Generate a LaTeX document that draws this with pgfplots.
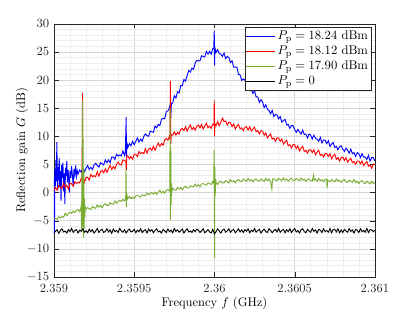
\documentclass[border=0pt]{standalone}
\usepackage{pgfplots}
\pgfplotsset{compat=1.18}
\definecolor{mlGreen}{rgb}{0.466,0.674,0.188}
\definecolor{axGray}{rgb}{0.15,0.15,0.15}
\newcommand{\figfont}{\fontsize{10.8}{13}\selectfont}

\begin{document}
\begin{tikzpicture}
\path[use as bounding box] (0,0) rectangle (360pt,270.6pt);
\begin{axis}[
  at={(46.8pt,30.4pt)}, anchor=south west,
  scale only axis, width=278.4pt, height=219.6pt,
  xmin=0, xmax=2000, ymin=-15, ymax=30,
  xtick={0,500,1000,1500,2000},
  xticklabels={2.359,2.3595,2.36,2.3605,2.361},
  ytick={-15,-10,...,30},
  minor x tick num=4, minor y tick num=4,
  tick align=inside, major tick length=4pt, minor tick length=0pt,
  grid=both,
  major grid style={draw=black!16},
  minor grid style={draw=black!7},
  axis line style={draw=axGray},
  tick style={draw=axGray},
  tick label style={text=axGray, font=\figfont},
  xticklabel style={yshift=-3pt},
  yticklabel style={xshift=-0.5pt},
  label style={font=\figfont},
  xlabel={Frequency $f$ (GHz)},
  ylabel={Reflection gain $G$ (dB)},
  xlabel style={at={(axis description cs:0.5,-0.106)}, anchor=center},
  ylabel style={at={(axis description cs:-0.0995,0.5)}, anchor=center},
  legend style={at={(rel axis cs:0.99,0.987)}, anchor=north east,
    draw=axGray, fill=white, font=\figfont, inner sep=1pt,
    legend cell align=left},
  legend image post style={xscale=1.45},
  every axis plot/.append style={line width=0.8pt},
]
% P_p = 18.24 dBm
\addplot[color=blue] coordinates {
(0,2.5)(3,-7.4)(6,4.1)(9,1.2)(12,5.8)(15,2.0)(18,9.0)(21,3.1)(24,0.5)(27,4.6)
(30,2.2)(33,6.1)(36,1.0)(40,3.8)(44,-1.5)(48,4.9)(52,2.6)(56,5.3)(60,0.2)(64,3.4)
(68,-2.0)(72,4.4)(76,2.9)(80,5.6)(84,1.8)(88,4.0)(92,2.4)(96,0.0)(100,3.9)(105,2.6)
(110,4.7)(115,3.0)(120,1.3)(125,4.2)(130,3.2)(135,4.8)(140,2.9)(145,3.9)(150,3.3)
(160,4.0)(170,3.6)(180,4.3)(190,3.7)(200,4.3)(210,4.8)(220,4.1)(230,4.5)(240,4.1)(250,4.9)
(260,5.2)(270,4.8)(280,4.5)(290,5.3)(300,5.1)(310,4.9)(320,5.8)(330,5.3)(340,5.8)(350,5.3)
(360,6.3)(370,6.3)(380,5.9)(390,6.8)(400,6.5)(410,6.7)(420,6.5)(430,7.4)(440,6.6)(445,7.3)
(450,13.4)(452,6.2)(455,8.9)(460,8.0)(470,8.7)(480,8.3)(490,9.1)(500,8.5)(510,9.1)(520,9.7)
(530,9.0)(540,9.5)(550,9.1)(560,10.0)(570,10.4)(580,10.1)(590,10.0)(600,10.9)(610,10.8)(620,10.7)
(630,11.8)(640,11.5)(650,12.1)(660,11.9)(670,13.0)(680,13.2)(690,13.1)(700,14.4)(710,14.5)(720,15.1)
(725,15.7)(728,13.2)(732,15.8)(740,15.9)(750,17.2)(760,16.8)(770,17.9)(780,17.7)(790,19.0)(800,19.0)
(810,20.1)(820,19.8)(830,20.8)(840,21.7)(850,21.4)(860,22.1)(870,21.9)(880,23.0)(890,23.5)(900,23.4)
(910,23.4)(920,24.3)(930,24.2)(940,24.1)(950,25.1)(960,24.6)(970,25.1)(980,24.6)(990,25.6)(996,25.6)
(999,28.8)(1000,25.0)(1001,22.6)(1003,25.7)(1010,24.9)(1020,25.4)(1030,24.7)(1040,24.6)(1050,24.2)(1060,24.8)
(1070,23.8)(1080,24.2)(1090,24.0)(1100,23.1)(1110,23.4)(1120,22.3)(1130,22.3)(1140,22.3)(1150,21.0)(1160,20.9)
(1170,19.9)(1180,20.2)(1190,20.0)(1200,19.2)(1210,18.6)(1220,18.9)(1230,18.3)(1240,17.6)(1250,18.1)(1260,17.0)
(1270,17.0)(1280,16.0)(1290,16.5)(1300,16.1)(1310,15.1)(1320,15.6)(1330,14.8)(1340,14.6)(1350,14.0)(1360,14.6)
(1370,13.5)(1380,13.9)(1390,13.8)(1400,13.1)(1410,13.5)(1420,12.5)(1430,12.8)(1440,13.0)(1450,12.0)(1460,12.1)
(1470,11.4)(1480,11.9)(1490,11.9)(1500,11.2)(1510,10.7)(1520,11.2)(1530,10.8)(1540,10.4)(1550,11.1)(1560,10.3)
(1570,10.4)(1580,9.7)(1590,10.4)(1600,10.2)(1610,9.5)(1620,10.2)(1630,9.6)(1640,9.5)(1650,9.1)(1660,9.8)
(1670,8.8)(1680,9.3)(1690,9.3)(1700,8.7)(1710,9.2)(1720,8.2)(1730,8.6)(1740,8.9)(1750,8.0)(1760,8.2)
(1770,7.6)(1780,8.2)(1790,8.3)(1800,7.7)(1810,7.3)(1820,7.9)(1830,7.5)(1840,7.0)(1850,7.7)(1860,6.9)
(1870,7.1)(1880,6.4)(1890,7.1)(1900,6.9)(1910,6.2)(1920,6.9)(1930,6.3)(1940,6.3)(1950,5.9)(1960,6.6)
(1970,5.6)(1980,6.2)(1990,6.2)(2000,5.6)
};
\addlegendentry{$P_\mathrm{p} = 18.24~\mathrm{dBm}$}
% P_p = 18.12 dBm
\addplot[color=red] coordinates {
(0,0.3)(10,0.9)(20,0.4)(30,1.2)(40,0.9)(50,0.7)(60,1.6)(70,0.9)(80,1.3)(90,0.6)
(100,1.6)(110,1.6)(120,1.1)(130,1.9)(140,1.6)(150,1.8)(160,1.7)(170,2.5)(175,2.3)(178,17.7)
(180,2.0)(183,2.6)(190,1.8)(200,2.7)(210,2.7)(220,2.2)(230,3.2)(240,2.8)(250,3.0)(260,2.8)
(270,3.7)(280,2.9)(290,3.7)(300,3.9)(310,3.5)(320,4.2)(330,3.6)(340,4.2)(350,4.8)(360,4.1)
(370,4.6)(380,4.2)(390,5.0)(400,5.4)(410,5.0)(420,4.9)(430,5.8)(440,5.7)(448,5.5)(451,4.0)
(454,6.5)(460,6.5)(470,6.0)(480,6.4)(490,5.9)(500,6.8)(510,6.8)(520,6.4)(530,7.3)(540,6.9)
(550,7.1)(560,6.9)(570,7.8)(580,7.0)(590,7.7)(600,7.9)(610,7.5)(620,8.2)(630,7.5)(640,8.2)
(650,8.8)(660,8.2)(670,8.7)(680,8.4)(690,9.3)(700,9.6)(710,9.3)(720,10.0)(723,9.5)(726,19.8)
(728,8.6)(731,10.3)(740,10.2)(750,10.8)(760,10.2)(770,10.7)(780,10.4)(790,11.2)(800,11.4)(810,11.0)
(820,11.7)(830,10.9)(840,11.5)(850,12.0)(860,11.2)(870,11.6)(880,11.1)(890,11.8)(900,12.0)(910,11.5)
(920,12.1)(930,11.3)(940,11.8)(950,12.3)(960,11.5)(970,11.8)(980,11.4)(990,12.1)(997,12.0)(999,16.4)
(1001,10.0)(1003,12.2)(1010,11.9)(1020,12.6)(1030,11.9)(1040,12.5)(1050,13.2)(1060,12.6)(1070,12.7)(1080,12.0)
(1090,12.5)(1100,12.4)(1110,11.7)(1120,12.2)(1130,11.3)(1140,11.8)(1150,12.1)(1160,11.3)(1170,11.5)(1180,11.0)
(1190,11.6)(1200,11.7)(1210,11.1)(1220,11.7)(1230,10.9)(1240,11.3)(1250,11.6)(1260,10.8)(1270,11.0)(1280,10.4)
(1290,11.0)(1300,10.9)(1310,10.2)(1320,10.6)(1330,9.7)(1340,10.1)(1350,10.4)(1360,9.5)(1370,9.7)(1380,9.1)
(1390,9.7)(1400,9.7)(1410,9.1)(1420,9.5)(1430,8.6)(1440,9.0)(1450,9.3)(1460,8.3)(1470,8.5)(1480,7.9)
(1490,8.5)(1500,8.5)(1510,7.8)(1520,8.3)(1530,7.4)(1540,7.9)(1550,8.2)(1560,7.3)(1570,7.5)(1580,7.0)
(1590,7.6)(1600,7.6)(1610,7.1)(1620,7.6)(1630,6.7)(1640,7.2)(1650,7.5)(1660,6.6)(1670,6.8)(1680,6.3)
(1690,6.9)(1700,6.9)(1710,6.4)(1720,6.9)(1730,6.0)(1740,6.5)(1750,6.8)(1760,5.9)(1770,6.2)(1780,5.6)
(1790,6.2)(1800,6.3)(1810,5.7)(1820,6.2)(1830,5.4)(1840,5.8)(1850,6.1)(1860,5.3)(1870,5.5)(1880,5.0)
(1890,5.6)(1900,5.6)(1910,5.1)(1920,5.6)(1930,4.8)(1940,5.2)(1950,5.5)(1960,4.7)(1970,4.9)(1980,4.3)
(1990,5.0)(2000,5.0)
};
\addlegendentry{$P_\mathrm{p} = 18.12~\mathrm{dBm}$}
% P_p = 17.90 dBm
\addplot[color=mlGreen] coordinates {
(0,-4.6)(10,-4.6)(20,-4.8)(30,-4.3)(40,-4.5)(50,-4.3)(60,-4.4)(70,-3.7)(80,-4.1)(90,-3.7)
(100,-3.5)(110,-3.7)(120,-3.3)(130,-3.6)(140,-3.2)(150,-3.0)(160,-3.4)(165,-3.1)(170,-2.4)(172,-6.8)
(174,3.5)(176,-6.0)(178,16.4)(180,-2.0)(182,9.5)(184,-8.0)(186,4.0)(188,-6.5)(190,-1.0)(192,-4.5)
(195,-2.6)(200,-2.9)(210,-2.7)(220,-2.9)(230,-3.0)(240,-2.5)(250,-2.7)(260,-2.8)(270,-2.2)(280,-2.6)
(290,-2.3)(300,-2.7)(310,-2.2)(320,-2.0)(330,-2.3)(340,-2.3)(350,-1.8)(360,-2.0)(370,-2.1)(380,-1.5)
(390,-1.9)(400,-1.6)(410,-1.4)(420,-1.6)(430,-1.2)(440,-1.5)(447,-1.2)(449,4.2)(451,-2.6)(454,-0.4)
(460,-1.1)(470,-0.7)(480,-1.1)(490,-0.8)(500,-1.1)(510,-0.6)(520,-0.5)(530,-0.7)(540,-0.8)(550,-0.4)
(560,-0.5)(570,-0.6)(580,-0.1)(590,-0.4)(600,-0.2)(610,0.0)(620,-0.3)(630,0.1)(640,-0.3)(650,0.1)
(660,0.4)(670,-0.1)(680,0.2)(690,-0.1)(700,0.4)(710,0.5)(720,0.3)(722,0.2)(724,15.0)(726,-4.9)
(728,8.0)(730,-2.2)(733,1.6)(736,0.3)(740,0.7)(750,0.5)(760,0.4)(770,0.9)(780,0.6)(790,0.9)
(800,0.5)(810,0.9)(820,1.1)(830,0.8)(840,0.8)(850,1.2)(860,1.1)(870,1.0)(880,1.5)(890,1.1)
(900,1.4)(910,1.0)(920,1.5)(930,1.6)(940,1.4)(950,1.3)(960,1.7)(970,1.6)(980,1.4)(990,2.0)
(996,1.6)(998,7.6)(1000,-3.0)(1001,-11.6)(1003,4.5)(1005,-0.5)(1008,2.4)(1010,1.8)(1020,1.4)(1030,1.9)
(1040,2.0)(1050,1.7)(1060,1.7)(1070,2.1)(1080,1.9)(1090,1.7)(1100,2.3)(1110,1.9)(1120,2.1)(1130,1.7)
(1140,2.2)(1150,2.3)(1160,2.0)(1170,1.9)(1180,2.4)(1190,2.2)(1200,2.0)(1210,2.5)(1220,2.1)(1230,2.3)
(1240,1.9)(1250,2.3)(1260,2.4)(1270,2.1)(1280,2.0)(1290,2.4)(1300,2.2)(1310,2.0)(1320,2.5)(1330,2.1)
(1340,2.4)(1350,1.9)(1358,0.6)(1362,2.4)(1370,2.5)(1380,2.2)(1390,2.1)(1400,2.5)(1410,2.3)(1420,2.1)
(1430,2.6)(1440,2.2)(1450,2.4)(1460,2.0)(1470,2.4)(1480,2.5)(1490,2.2)(1500,2.1)(1510,2.5)(1520,2.3)
(1530,2.1)(1540,2.6)(1550,2.2)(1560,2.4)(1570,2.0)(1580,2.3)(1590,2.4)(1600,2.1)(1610,2.0)(1618,3.1)
(1622,2.2)(1630,2.4)(1640,2.0)(1650,2.5)(1660,2.1)(1670,2.3)(1680,1.9)(1690,2.3)(1700,2.4)(1702,0.8)
(1706,2.2)(1710,2.1)(1720,1.9)(1730,2.3)(1740,2.1)(1750,1.9)(1760,2.4)(1770,2.0)(1780,2.2)(1790,1.8)
(1800,2.2)(1810,2.3)(1820,1.9)(1830,1.8)(1840,2.2)(1850,2.0)(1860,1.8)(1870,2.3)(1880,1.8)(1890,2.0)
(1900,1.6)(1910,2.0)(1920,2.1)(1930,1.7)(1940,1.6)(1950,2.0)(1960,1.8)(1970,1.5)(1980,2.0)(1990,1.6)
(2000,1.8)
};
\addlegendentry{$P_\mathrm{p} = 17.90~\mathrm{dBm}$}
% P_p = 0
\addplot[color=black] coordinates {
(0,-7.1)(10,-6.9)(20,-6.6)(30,-7.25)(40,-6.75)(50,-6.45)(60,-7.0)(70,-6.85)(80,-7.2)(90,-6.6)
(100,-6.95)(110,-6.4)(120,-7.05)(130,-6.75)(140,-6.6)(150,-7.2)(160,-6.7)(170,-6.9)(180,-6.45)(190,-7.05)
(200,-6.8)(210,-7.15)(220,-6.5)(230,-6.95)(240,-6.6)(250,-7.2)(260,-6.85)(270,-6.4)(280,-7.1)(290,-6.7)
(300,-6.55)(310,-7.1)(320,-6.9)(330,-6.45)(340,-7.0)(350,-6.65)(360,-7.25)(370,-6.5)(380,-6.95)(390,-6.75)
(400,-7.1)(410,-6.4)(420,-6.85)(430,-7.05)(440,-6.6)(450,-7.2)(460,-6.75)(470,-6.5)(480,-7.0)(490,-6.9)
(500,-6.55)(510,-7.15)(520,-6.7)(530,-6.95)(540,-6.45)(550,-7.1)(560,-6.8)(570,-6.6)(580,-7.2)(590,-6.5)
(600,-6.9)(610,-6.6)(620,-7.15)(630,-6.75)(640,-6.45)(650,-7.0)(660,-6.85)(670,-7.2)(680,-6.55)(690,-6.8)
(700,-7.1)(710,-6.5)(720,-6.95)(730,-6.7)(740,-7.15)(750,-6.4)(760,-6.9)(770,-6.65)(780,-7.05)(790,-6.8)
(800,-6.5)(810,-7.2)(820,-6.75)(830,-6.45)(840,-7.0)(850,-6.85)(860,-7.1)(870,-6.6)(880,-6.95)(890,-6.5)
(900,-6.7)(910,-7.1)(920,-6.8)(930,-6.45)(940,-7.15)(950,-6.9)(960,-6.6)(970,-7.0)(980,-7.2)(990,-6.55)
(1000,-7.35)(1010,-6.95)(1020,-6.45)(1030,-6.85)(1040,-7.2)(1050,-6.7)(1060,-6.5)(1070,-7.05)(1080,-6.8)(1090,-6.45)
(1100,-7.05)(1110,-6.75)(1120,-6.55)(1130,-7.15)(1140,-6.85)(1150,-6.45)(1160,-7.0)(1170,-6.65)(1180,-7.1)(1190,-6.6)
(1200,-6.9)(1210,-6.45)(1220,-7.15)(1230,-6.7)(1240,-6.95)(1250,-6.4)(1260,-7.05)(1270,-6.75)(1280,-6.55)(1290,-7.2)
(1300,-6.8)(1310,-6.5)(1320,-6.95)(1330,-7.1)(1340,-6.45)(1350,-6.75)(1360,-7.15)(1370,-6.8)(1380,-6.55)(1390,-7.0)
(1400,-6.4)(1410,-7.05)(1420,-6.75)(1430,-6.55)(1440,-7.15)(1450,-6.6)(1460,-6.95)(1470,-6.45)(1480,-7.1)(1490,-6.7)
(1500,-6.4)(1510,-7.0)(1520,-6.75)(1530,-7.2)(1540,-6.6)(1550,-6.45)(1560,-6.95)(1570,-7.15)(1580,-6.55)(1590,-6.85)
(1600,-7.05)(1610,-6.4)(1620,-6.9)(1630,-6.65)(1640,-7.2)(1650,-6.55)(1660,-6.7)(1670,-7.1)(1680,-6.45)(1690,-6.95)
(1700,-6.75)(1710,-7.05)(1720,-6.4)(1730,-7.15)(1740,-6.6)(1750,-6.55)(1760,-7.0)(1770,-6.45)(1780,-7.15)(1790,-6.65)
(1800,-7.1)(1810,-6.55)(1820,-6.85)(1830,-7.05)(1840,-6.4)(1850,-6.9)(1860,-6.65)(1870,-7.2)(1880,-6.55)(1890,-6.7)
(1900,-7.1)(1910,-6.45)(1920,-6.95)(1930,-6.75)(1940,-7.05)(1950,-6.4)(1960,-7.1)(1970,-6.6)(1980,-6.65)(1990,-6.95)
(2000,-6.7)
};
\addlegendentry{$P_\mathrm{p} = 0$}
\end{axis}
\end{tikzpicture}
\end{document}
